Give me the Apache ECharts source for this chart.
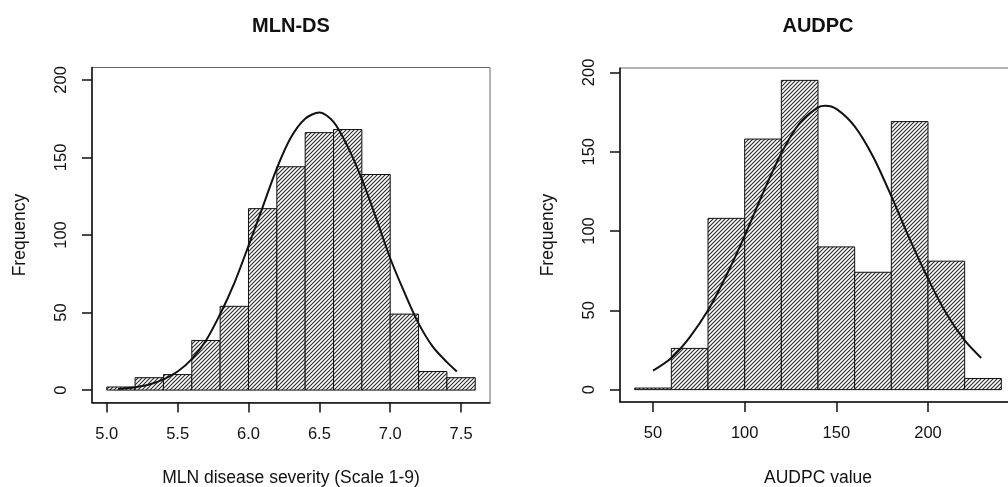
<!DOCTYPE html>
<html>
<head>
<meta charset="utf-8">
<script src="https://cdn.jsdelivr.net/npm/echarts@6/dist/echarts.min.js"></script>
<style>
  html, body { margin: 0; padding: 0; background: #fff; }
  #chart { width: 1008px; height: 487px; }
</style>
</head>
<body>
<div id="chart"></div>
<script>
// MLN-DS histogram (bin edges + counts) and fitted curve
const mlnEdges = [5.0, 5.2, 5.4, 5.6, 5.8, 6.0, 6.2, 6.4, 6.6, 6.8, 7.0, 7.2, 7.4, 7.6];
const mlnCounts = [2, 8, 10, 32, 54, 117, 144, 166, 168, 139, 49, 12, 8];
const mlnCurveX = [5.08, 5.2, 5.3, 5.4, 5.5, 5.6, 5.7, 5.8, 5.9, 6.0, 6.1, 6.2, 6.3, 6.4, 6.5,
                   6.6, 6.7, 6.8, 6.9, 7.0, 7.1, 7.2, 7.3, 7.4, 7.47];
const mlnCurveY = [0.7, 1.9, 3.6, 6.9, 12, 20, 32, 49, 69, 93, 118, 143, 163, 175, 179,
                   173, 157, 136, 111, 85, 63, 43, 28, 18, 12];
const mlnTicksX = [5.0, 5.5, 6.0, 6.5, 7.0, 7.5];

// AUDPC histogram and fitted curve
const audEdges = [40, 60, 80, 100, 120, 140, 160, 180, 200, 220, 240];
const audCounts = [1, 26, 108, 158, 195, 90, 74, 169, 81, 7];
const audCurveX = [50, 60, 70, 80, 90, 100, 110, 120, 130, 140, 144, 150, 160, 170, 180,
                   190, 200, 210, 220, 229];
const audCurveY = [12, 20, 33, 50, 72, 97, 124, 149, 168, 178, 179, 177, 166, 147, 122,
                   95, 70, 48, 31, 20];
const audTicksX = [50, 100, 150, 200];

const freqTicks = [0, 50, 100, 150, 200];

const FONT = '"Liberation Sans", Arial, sans-serif';

// diagonal hatch like R's density shading
const hatch = document.createElement('canvas');
hatch.width = 4;
hatch.height = 4;
(function () {
  const c = hatch.getContext('2d');
  c.fillStyle = '#fff';
  c.fillRect(0, 0, 4, 4);
  c.strokeStyle = '#2a2a2a';
  c.lineWidth = 1.1;
  c.beginPath();
  c.moveTo(-1, 5); c.lineTo(5, -1);
  c.moveTo(-1, 1); c.lineTo(1, -1);
  c.moveTo(3, 5); c.lineTo(5, 3);
  c.stroke();
})();
const hatchFill = { image: hatch, repeat: 'repeat' };

function histData(edges, counts) {
  return counts.map((c, i) => [edges[i], edges[i + 1], c]);
}

function renderBin(params, api) {
  const p0 = api.coord([api.value(0), api.value(2)]);
  const p1 = api.coord([api.value(1), 0]);
  return {
    type: 'rect',
    shape: { x: p0[0], y: p0[1], width: p1[0] - p0[0], height: p1[1] - p0[1] },
    style: { fill: hatchFill, stroke: '#111', lineWidth: 1 }
  };
}

function xAxisFor(gridIndex, min, max, ticks, name, fmt) {
  return {
    type: 'value',
    gridIndex: gridIndex,
    min: min,
    max: max,
    name: name,
    nameLocation: 'middle',
    nameGap: 67,
    nameTextStyle: { fontFamily: FONT, fontSize: 17.5, color: '#111' },
    axisLine: { show: true, onZero: false, lineStyle: { color: '#111', width: 1.5 } },
    axisTick: { show: true, length: 10, customValues: ticks, lineStyle: { color: '#111', width: 1.5 } },
    axisLabel: { customValues: ticks, margin: 23, fontFamily: FONT, fontSize: 16.5, color: '#111', formatter: fmt },
    splitLine: { show: false }
  };
}

function yAxisFor(gridIndex, min, max) {
  return {
    type: 'value',
    gridIndex: gridIndex,
    min: min,
    max: max,
    name: 'Frequency',
    nameLocation: 'middle',
    nameGap: 63,
    nameTextStyle: { fontFamily: FONT, fontSize: 17.5, color: '#111' },
    axisLine: { show: true, onZero: false, lineStyle: { color: '#111', width: 1.5 } },
    axisTick: { show: true, length: 10, customValues: freqTicks, lineStyle: { color: '#111', width: 1.5 } },
    axisLabel: { customValues: freqTicks, rotate: 90, margin: 22, fontFamily: FONT, fontSize: 16.5, color: '#111' },
    splitLine: { show: false }
  };
}

const chart = echarts.init(document.getElementById('chart'));

chart.setOption({
  backgroundColor: '#fff',
  animation: false,
  graphic: [
    { type: 'text', x: 291, y: 26, style: { text: 'MLN-DS', textAlign: 'center', textVerticalAlign: 'middle', font: 'bold 20px ' + FONT, fill: '#111' } },
    { type: 'text', x: 818, y: 26, style: { text: 'AUDPC', textAlign: 'center', textVerticalAlign: 'middle', font: 'bold 20px ' + FONT, fill: '#111' } }
  ],
  grid: [
    { left: 92, top: 67.5, width: 398, height: 335, outerBoundsMode: 'none', containLabel: false, show: true, borderColor: '#666', borderWidth: 1, backgroundColor: 'transparent' },
    { left: 620, top: 68, width: 396, height: 334, outerBoundsMode: 'none', containLabel: false, show: true, borderColor: '#666', borderWidth: 1, backgroundColor: 'transparent' }
  ],
  xAxis: [
    xAxisFor(0, 4.896, 7.704, mlnTicksX, 'MLN disease severity (Scale 1-9)', v => v.toFixed(1)),
    xAxisFor(1, 32, 248, audTicksX, 'AUDPC value', v => String(v))
  ],
  yAxis: [
    yAxisFor(0, -8, 208),
    yAxisFor(1, -7.8, 202.8)
  ],
  series: [
    {
      type: 'custom',
      xAxisIndex: 0,
      yAxisIndex: 0,
      renderItem: renderBin,
      encode: { x: [0, 1], y: 2 },
      data: histData(mlnEdges, mlnCounts)
    },
    {
      type: 'line',
      xAxisIndex: 0,
      yAxisIndex: 0,
      smooth: 0.3,
      showSymbol: false,
      z: 5,
      lineStyle: { color: '#111', width: 2 },
      data: mlnCurveX.map((x, i) => [x, mlnCurveY[i]])
    },
    {
      type: 'custom',
      xAxisIndex: 1,
      yAxisIndex: 1,
      renderItem: renderBin,
      encode: { x: [0, 1], y: 2 },
      data: histData(audEdges, audCounts)
    },
    {
      type: 'line',
      xAxisIndex: 1,
      yAxisIndex: 1,
      smooth: 0.3,
      showSymbol: false,
      z: 5,
      lineStyle: { color: '#111', width: 2 },
      data: audCurveX.map((x, i) => [x, audCurveY[i]])
    }
  ]
});
</script>
</body>
</html>
